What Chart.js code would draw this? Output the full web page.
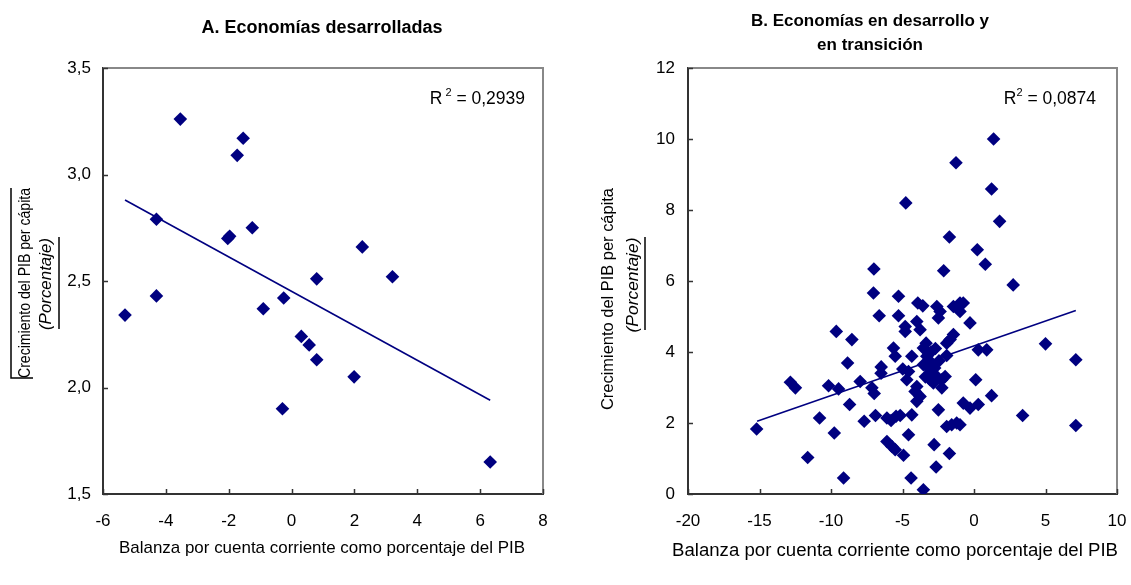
<!DOCTYPE html>
<html><head><meta charset="utf-8">
<script src="https://cdn.jsdelivr.net/npm/chart.js@4/dist/chart.umd.min.js"></script>
<style>
html,body{margin:0;padding:0;background:#fff;}
#wrap{position:relative;width:1131px;height:585px;overflow:hidden;}
.panel{position:absolute;top:0;height:585px;}
#pa{left:0;width:565px;}
#pb{left:565px;width:566px;}
canvas{display:block;}
</style></head><body>
<div id="wrap">
  <div class="panel" id="pa"><canvas id="ca" width="565" height="585"></canvas></div>
  <div class="panel" id="pb"><canvas id="cb" width="566" height="585"></canvas></div>
</div>
<script>
// Panel A: developed economies
const devBalance = [-5.3,-4.3,-4.3,-3.54,-1.73,-1.54,-2.03,-1.97,-1.25,-0.9,-0.25,-0.29,0.31,0.56,0.8,0.8,1.99,2.25,3.21,6.32];
const devGrowth  = [2.34,2.79,2.43,3.26,3.09,3.17,2.70,2.71,2.75,2.37,2.42,1.90,2.24,2.20,2.13,2.51,2.05,2.66,2.52,1.65];
const devTrendX  = [-5.3, 6.32];
const devTrendY  = [2.88, 1.94];
const devXTicks  = [-6,-4,-2,0,2,4,6,8];
const devYTicks  = [1.5,2.0,2.5,3.0,3.5];

// Panel B: developing and transition economies
const dvgBalance = [-15.2,-12.84,-12.49,-11.63,-10.8,-10.17,-9.47,-9.77,-9.63,-9.12,-8.84,-8.7,-8.54,-7.96,-7.68,-7.14,-6.98,-7.0,-7.03,-6.89,
  -6.63,-6.49,-6.5,-6.09,-5.8,-5.45,-5.16,-6.09,-5.74,-5.51,-5.63,-5.51,-5.28,-5.28,-4.98,-4.58,-4.93,-4.81,-4.81,-4.77,
  -4.7,-4.58,-4.4,-4.35,-4.35,-4.0,-3.93,-3.58,-3.77,-3.54,-3.3,-3.07,-3.19,-3.54,-4.0,-4.12,-3.77,-4.0,-3.07,-2.84,
  -2.6,-2.25,-2.02,-2.25,-3.54,-2.79,-2.65,-2.6,-2.37,-2.49,-2.49,-2.12,-1.91,-1.67,-1.44,-1.91,-1.91,-1.56,-1.21,-0.98,
  -1.72,-1.72,-1.44,-0.98,-0.98,-0.75,-1.26,-0.75,-0.28,0.3,-0.28,0.12,0.23,0.3,0.89,0.79,1.23,1.37,1.79,1.23,
  2.74,3.4,5.0,7.12,7.12,-3.0,-2.75,-2.9,-3.35,-2.45,-2.7,-3.4];
const dvgGrowth  = [1.83,3.15,2.99,1.03,2.14,3.05,2.96,1.72,4.58,0.45,3.69,2.52,4.35,3.17,2.05,2.99,2.83,6.34,5.66,2.21,
  5.02,3.58,3.40,2.14,2.07,2.19,2.21,1.48,1.34,1.25,4.11,3.88,5.57,5.02,3.52,3.45,1.09,4.72,4.58,8.20,
  3.22,1.67,0.45,3.88,2.23,4.86,5.38,5.30,4.63,4.11,3.88,3.74,3.55,3.64,3.03,2.89,2.75,2.61,3.22,3.13,
  3.31,3.22,3.31,2.99,0.12,1.39,0.76,5.28,5.14,4.96,2.37,6.29,4.25,4.35,4.49,3.90,1.90,1.95,2.00,1.95,
  7.24,1.14,5.28,5.38,5.14,5.38,9.33,2.56,2.42,2.52,4.82,3.22,6.88,4.06,4.06,6.47,8.59,10.0,7.68,2.77,
  5.89,2.21,4.23,3.78,1.93,4.00,3.55,3.40,4.25,3.75,4.10,3.30];
const dvgTrendX  = [-15.17, 7.12];
const dvgTrendY  = [2.05, 5.17];
const dvgXTicks  = [-20,-15,-10,-5,0,5,10];
const dvgYTicks  = [0,2,4,6,8,10,12];

const FONT = "'Liberation Sans', Arial, Helvetica, sans-serif";
const NAVY = '#000080';
const AXIS = '#333333';
const FRAME = '#888888';

// centred text squeezed or stretched along its baseline to a given length
function fitText(ctx, text, x, y, len, rot) {
  ctx.save();
  ctx.translate(x, y);
  if (rot) ctx.rotate(rot);
  const w = ctx.measureText(text).width;
  ctx.scale(len / w, 1);
  ctx.fillText(text, 0, 0);
  ctx.restore();
}

const decor = {
  id: 'decor',
  beforeDatasetsDraw(chart, args, o) {
    const {ctx, chartArea: a, scales} = chart;
    ctx.save();
    // grey frame on top and right
    ctx.strokeStyle = FRAME; ctx.lineWidth = 2;
    ctx.beginPath();
    ctx.moveTo(a.left, a.top); ctx.lineTo(a.right, a.top); ctx.lineTo(a.right, a.bottom);
    ctx.stroke();
    // inner tick marks
    ctx.strokeStyle = AXIS; ctx.lineWidth = 1.5;
    ctx.beginPath();
    scales.x.ticks.forEach(t => {
      const px = Math.round(scales.x.getPixelForValue(t.value)) + 0.5;
      ctx.moveTo(px, a.bottom); ctx.lineTo(px, a.bottom - 5);
    });
    scales.y.ticks.forEach(t => {
      const py = Math.round(scales.y.getPixelForValue(t.value)) + 0.5;
      ctx.moveTo(a.left, py); ctx.lineTo(a.left + 5, py);
    });
    ctx.stroke();
    ctx.restore();
  },
  afterDraw(chart, args, o) {
    const {ctx, chartArea: a} = chart;
    ctx.save();
    ctx.fillStyle = '#000';
    ctx.textAlign = 'center'; ctx.textBaseline = 'middle';
    // panel title
    ctx.font = 'bold ' + o.titleFont + 'px ' + FONT;
    o.title.forEach((line, i) => ctx.fillText(line, o.titleX, o.titleY + i * 24));
    // R squared
    const rx = a.right - o.rRight, ry = 99;
    ctx.font = '17.5px ' + FONT;
    const rest = ' = ' + o.r2;
    const wR = ctx.measureText('R').width;
    const wRest = ctx.measureText(rest).width;
    ctx.font = '11px ' + FONT;
    const w2 = ctx.measureText('2').width + o.supGap;
    const x0 = rx - wR - w2 - wRest;
    ctx.textAlign = 'left';
    ctx.font = '17.5px ' + FONT;
    ctx.fillText('R', x0, ry);
    ctx.font = '11px ' + FONT;
    ctx.fillText('2', x0 + wR + o.supGap, ry - 6);
    ctx.font = '17.5px ' + FONT;
    ctx.fillText(rest, x0 + wR + w2, ry);
    // y-axis title, two lines
    ctx.textAlign = 'center';
    ctx.font = '16px ' + FONT;
    fitText(ctx, 'Crecimiento del PIB per cápita', o.yt1[0], o.yt1[1], o.yt1[2], -Math.PI / 2);
    ctx.font = 'italic ' + o.ytFont2 + 'px ' + FONT;
    fitText(ctx, '(Porcentaje)', o.yt2[0], o.yt2[1], o.yt2[2], -Math.PI / 2);
    // rules beside the axis title
    ctx.strokeStyle = '#000'; ctx.lineWidth = 1.5;
    o.rules.forEach(r => {
      ctx.beginPath();
      ctx.moveTo(r[0], r[1]);
      for (let k = 2; k < r.length; k += 2) ctx.lineTo(r[k], r[k + 1]);
      ctx.stroke();
    });
    // x-axis title
    ctx.font = o.xtFont + 'px ' + FONT;
    fitText(ctx, 'Balanza por cuenta corriente como porcentaje del PIB', o.xt[0], o.xt[1], o.xt[2], 0);
    ctx.restore();
  }
};

function panel(canvas, o) {
  const pts = o.x.map((v, i) => ({x: v, y: o.y[i]}));
  const trend = o.tx.map((v, i) => ({x: v, y: o.ty[i]}));
  const tickFont = {family: FONT, size: 17};
  return new Chart(canvas, {
    type: 'scatter',
    data: {datasets: [
      {data: pts, pointStyle: 'rectRot', pointRadius: 6.8, pointHoverRadius: 6.8,
       backgroundColor: NAVY, borderColor: NAVY, borderWidth: 0},
      {type: 'line', data: trend, borderColor: NAVY, borderWidth: 1.6, pointRadius: 0, fill: false}
    ]},
    options: {
      responsive: false, animation: false, events: [],
      layout: {padding: {top: 68, right: o.padRight, left: 0, bottom: 0}},
      plugins: {legend: {display: false}, tooltip: {enabled: false}, title: {display: false}, decor: o.decor},
      scales: {
        x: {
          type: 'linear', min: o.xTicks[0], max: o.xTicks[o.xTicks.length - 1],
          afterBuildTicks: s => { s.ticks = o.xTicks.map(v => ({value: v})); },
          afterFit: s => { s.height = 91; s.paddingLeft = 0; s.paddingRight = 0; },
          ticks: {font: tickFont, color: '#000', padding: 17, maxRotation: 0, autoSkip: false, callback: v => String(v)},
          grid: {display: false, drawTicks: false},
          border: {display: true, color: AXIS, width: 2}
        },
        y: {
          type: 'linear', min: o.yTicks[0], max: o.yTicks[o.yTicks.length - 1],
          afterBuildTicks: s => { s.ticks = o.yTicks.map(v => ({value: v})); },
          afterFit: s => { s.width = o.yWidth; s.paddingTop = 0; s.paddingBottom = 0; },
          ticks: {font: tickFont, color: '#000', padding: o.yPad, autoSkip: false, callback: o.yFmt},
          grid: {display: false, drawTicks: false},
          border: {display: true, color: AXIS, width: 2}
        }
      }
    },
    plugins: [decor]
  });
}

panel(document.getElementById('ca'), {
  x: devBalance, y: devGrowth, tx: devTrendX, ty: devTrendY,
  xTicks: devXTicks, yTicks: devYTicks, yWidth: 103, padRight: 22, yPad: 12,
  yFmt: v => v.toFixed(1).replace('.', ','),
  decor: {
    title: ['A. Economías desarrolladas'], titleX: 322, titleY: 28, titleFont: 18,
    r2: '0,2939', rRight: 18, supGap: 3,
    ytFont2: 16.5, yt1: [26, 283, 190], yt2: [46, 284, 92],
    rules: [[11, 188, 11, 378, 33, 378], [59, 237, 59, 329]],
    xtFont: 17, xt: [322, 548, 406]
  }
});

panel(document.getElementById('cb'), {
  x: dvgBalance, y: dvgGrowth, tx: dvgTrendX, ty: dvgTrendY,
  xTicks: dvgXTicks, yTicks: dvgYTicks, yWidth: 123, padRight: 14, yPad: 13,
  yFmt: v => String(v),
  decor: {
    title: ['B. Economías en desarrollo y', 'en transición'], titleX: 305, titleY: 21, titleFont: 17,
    r2: '0,0874', rRight: 21, supGap: 0,
    ytFont2: 17, yt1: [44, 299, 222], yt2: [68, 285, 95],
    rules: [[80, 237, 80, 330]],
    xtFont: 17.5, xt: [330, 551, 446]
  }
});
</script>
</body></html>
